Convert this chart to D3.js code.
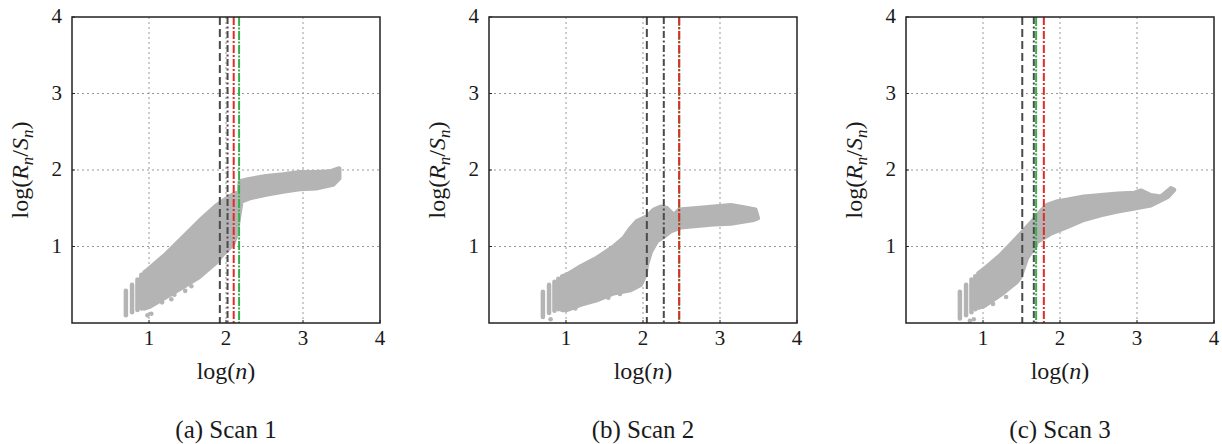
<!DOCTYPE html>
<html><head><meta charset="utf-8">
<script src="https://cdn.jsdelivr.net/npm/d3@7"></script>
<style>body{margin:0;background:#fff}svg{display:block}</style>
</head><body><svg id="c" width="1222" height="444" font-family="'Liberation Serif', 'Times New Roman', 'DejaVu Serif', serif"></svg>
<script>
// ---- data ----
const captions = ["(a) Scan 1", "(b) Scan 2", "(c) Scan 3"];
const xTicks = [1, 2, 3, 4];
const yTicks = [1, 2, 3, 4];
const columnX = [0.70, 0.78, 0.85, 0.90];

// Scan 1
const s1ColLow  = [0.10, 0.14, 0.17, 0.19];
const s1ColHigh = [0.42, 0.50, 0.57, 0.63];
const s1UpperX = [0.94, 1.00, 1.22, 1.44, 1.65, 1.87, 2.04, 2.17, 2.18, 2.30, 2.52, 2.74, 2.96, 3.17, 3.35, 3.47];
const s1UpperY = [0.66, 0.71, 0.90, 1.12, 1.33, 1.53, 1.65, 1.72, 1.85, 1.88, 1.92, 1.94, 1.97, 1.97, 1.98, 2.02];
const s1LowerX = [3.47, 3.39, 3.17, 2.96, 2.74, 2.52, 2.30, 2.20, 2.17, 2.13, 2.09, 1.96, 1.87, 1.65, 1.44, 1.22, 1.00, 0.94];
const s1LowerY = [1.89, 1.81, 1.76, 1.75, 1.72, 1.68, 1.63, 1.59, 1.40, 1.14, 1.03, 0.90, 0.79, 0.60, 0.47, 0.34, 0.21, 0.19];
const s1DotX = [1.17, 1.29, 1.33, 1.47, 1.55, 0.98, 1.03];
const s1DotY = [0.27, 0.31, 0.37, 0.42, 0.48, 0.10, 0.12];
// marker order: black dashed, black dash-dot, red, green
const s1Marks = [1.92, 2.02, 2.10, 2.17];

// Scan 2
const s2ColLow  = [0.08, 0.13, 0.16, 0.18];
const s2ColHigh = [0.41, 0.50, 0.54, 0.58];
const s2UpperX = [0.95, 1.01, 1.19, 1.40, 1.62, 1.75, 1.84, 1.92, 2.05, 2.14, 2.23, 2.31, 2.40, 2.47, 2.70, 2.92, 3.14, 3.31, 3.46, 3.49];
const s2UpperY = [0.61, 0.63, 0.74, 0.85, 1.00, 1.11, 1.24, 1.33, 1.39, 1.48, 1.52, 1.50, 1.41, 1.48, 1.50, 1.52, 1.54, 1.51, 1.48, 1.37];
const s2LowerX = [3.44, 3.14, 2.92, 2.70, 2.49, 2.36, 2.27, 2.18, 2.10, 2.05, 2.03, 1.97, 1.84, 1.62, 1.40, 1.19, 1.01, 0.95];
const s2LowerY = [1.35, 1.30, 1.29, 1.27, 1.25, 1.20, 1.13, 1.07, 0.93, 0.76, 0.63, 0.50, 0.43, 0.39, 0.30, 0.24, 0.17, 0.17];
const s2DotX = [1.55, 1.70, 1.12, 0.80];
const s2DotY = [0.33, 0.38, 0.19, 0.05];
const s2Marks = [2.05, 2.27, 2.47, 2.47];

// Scan 3
const s3ColLow  = [0.06, 0.10, 0.14, 0.18];
const s3ColHigh = [0.41, 0.50, 0.57, 0.61];
const s3UpperX = [0.94, 1.01, 1.23, 1.44, 1.66, 1.75, 1.83, 1.97, 2.10, 2.31, 2.53, 2.75, 2.97, 3.05, 3.18, 3.31, 3.44, 3.48];
const s3UpperY = [0.65, 0.70, 0.89, 1.11, 1.35, 1.46, 1.54, 1.59, 1.61, 1.65, 1.67, 1.69, 1.70, 1.73, 1.67, 1.65, 1.76, 1.74];
const s3LowerX = [3.40, 3.18, 2.97, 2.75, 2.53, 2.31, 2.10, 1.88, 1.70, 1.66, 1.57, 1.49, 1.44, 1.23, 1.01, 0.94];
const s3LowerY = [1.65, 1.54, 1.50, 1.46, 1.41, 1.35, 1.26, 1.17, 1.06, 0.98, 0.85, 0.61, 0.54, 0.37, 0.22, 0.20];
const s3DotX = [1.30, 1.13, 0.88, 0.83];
const s3DotY = [0.34, 0.25, 0.05, 0.03];
const s3Marks = [1.51, 1.66, 1.79, 1.69];

const markKinds = ["dash", "dashdot", "red", "green"];

// ---- drawing ----
const panels = [
  {left: 72, colLow: s1ColLow, colHigh: s1ColHigh, ux: s1UpperX, uy: s1UpperY, lx: s1LowerX, ly: s1LowerY, dx: s1DotX, dy: s1DotY, marks: s1Marks},
  {left: 489, colLow: s2ColLow, colHigh: s2ColHigh, ux: s2UpperX, uy: s2UpperY, lx: s2LowerX, ly: s2LowerY, dx: s2DotX, dy: s2DotY, marks: s2Marks},
  {left: 906, colLow: s3ColLow, colHigh: s3ColHigh, ux: s3UpperX, uy: s3UpperY, lx: s3LowerX, ly: s3LowerY, dx: s3DotX, dy: s3DotY, marks: s3Marks}
];
const W = 308, plotTop = 17, plotBottom = 323;
const svg = d3.select("#c");
const gray = "#b4b4b4";
const ink = "#1a1a1a";
const markStyle = {
  dash:    {color: "#4a4a4a", dash: "8,4"},
  dashdot: {color: "#4a4a4a", dash: "7,2.5,2,2.5"},
  red:     {color: "#e02b2b", dash: "8,2,2,2"},
  green:   {color: "#38b048", dash: "9,1.5,2,1.5"}
};

panels.forEach((p, i) => {
  const x = d3.scaleLinear().domain([0, 4]).range([p.left, p.left + W]);
  const y = d3.scaleLinear().domain([0, 4]).range([plotBottom, plotTop]);
  const g = svg.append("g");

  // grid
  g.selectAll(".gx").data(xTicks.filter(t => t < 4)).join("line")
    .attr("x1", d => x(d)).attr("x2", d => x(d)).attr("y1", plotTop).attr("y2", plotBottom)
    .attr("stroke", "#999").attr("stroke-width", 1).attr("stroke-dasharray", "2,3");
  g.selectAll(".gy").data(yTicks.filter(t => t < 4)).join("line")
    .attr("x1", p.left).attr("x2", p.left + W).attr("y1", d => y(d)).attr("y2", d => y(d))
    .attr("stroke", "#999").attr("stroke-width", 1).attr("stroke-dasharray", "2,3");

  // cloud
  const pts = p.ux.map((v, k) => [v, p.uy[k]]).concat(p.lx.map((v, k) => [v, p.ly[k]]));
  const line = d3.line().x(d => x(d[0])).y(d => y(d[1]));
  g.append("path").attr("d", line(pts) + "Z")
    .attr("fill", gray).attr("stroke", gray).attr("stroke-width", 4.5).attr("stroke-linejoin", "round");
  g.selectAll(".col").data(columnX).join("line")
    .attr("x1", d => x(d)).attr("x2", d => x(d))
    .attr("y1", (d, k) => y(p.colLow[k])).attr("y2", (d, k) => y(p.colHigh[k]))
    .attr("stroke", gray).attr("stroke-width", 4.5).attr("stroke-linecap", "round");
  g.selectAll(".dot").data(p.dx).join("circle")
    .attr("cx", d => x(d)).attr("cy", (d, k) => y(p.dy[k])).attr("r", 2.3).attr("fill", gray);

  // vertical markers (green before red so red is on top)
  const order = [0, 1, 3, 2];
  order.forEach(k => {
    const s = markStyle[markKinds[k]];
    g.append("line").attr("x1", x(p.marks[k])).attr("x2", x(p.marks[k]))
      .attr("y1", plotTop).attr("y2", plotBottom)
      .attr("stroke", s.color).attr("stroke-width", 2).attr("stroke-dasharray", s.dash);
  });

  // frame
  g.append("rect").attr("x", p.left).attr("y", plotTop).attr("width", W).attr("height", plotBottom - plotTop)
    .attr("fill", "none").attr("stroke", "#222").attr("stroke-width", 1.5);

  // ticks
  g.selectAll(".tx").data(xTicks).join("line")
    .attr("x1", d => x(d)).attr("x2", d => x(d)).attr("y1", plotBottom).attr("y2", plotBottom - 3)
    .attr("stroke", "#222");
  g.selectAll(".ty").data(yTicks).join("line")
    .attr("x1", p.left).attr("x2", p.left + 3).attr("y1", d => y(d)).attr("y2", d => y(d))
    .attr("stroke", "#222");

  g.selectAll(".lx").data(xTicks).join("text")
    .attr("x", d => x(d)).attr("y", plotBottom + 22).attr("text-anchor", "middle")
    .attr("font-size", 21).attr("fill", ink).text(d => d);
  g.selectAll(".ly").data(yTicks).join("text")
    .attr("x", p.left - 10).attr("y", d => y(d) + 6).attr("text-anchor", "end")
    .attr("font-size", 21).attr("fill", ink).text(d => d);

  // axis labels
  const xl = g.append("text").attr("x", p.left + W / 2).attr("y", plotBottom + 56)
    .attr("text-anchor", "middle").attr("font-size", 24).attr("fill", ink);
  xl.append("tspan").text("log(");
  xl.append("tspan").attr("font-style", "italic").text("n");
  xl.append("tspan").text(")");

  const yl = g.append("text").attr("transform", `translate(${p.left - 44},${(plotTop + plotBottom) / 2}) rotate(-90)`)
    .attr("text-anchor", "middle").attr("font-size", 24).attr("fill", ink);
  yl.append("tspan").text("log(");
  yl.append("tspan").attr("font-style", "italic").text("R");
  yl.append("tspan").attr("font-style", "italic").attr("font-size", 17).attr("dy", 5).text("n");
  yl.append("tspan").attr("dy", -5).text("/");
  yl.append("tspan").attr("font-style", "italic").text("S");
  yl.append("tspan").attr("font-style", "italic").attr("font-size", 17).attr("dy", 5).text("n");
  yl.append("tspan").attr("dy", -5).text(")");

  g.append("text").attr("x", p.left + W / 2).attr("y", 438).attr("text-anchor", "middle")
    .attr("font-size", 25).attr("fill", ink).text(captions[i]);
});
</script></body></html>
